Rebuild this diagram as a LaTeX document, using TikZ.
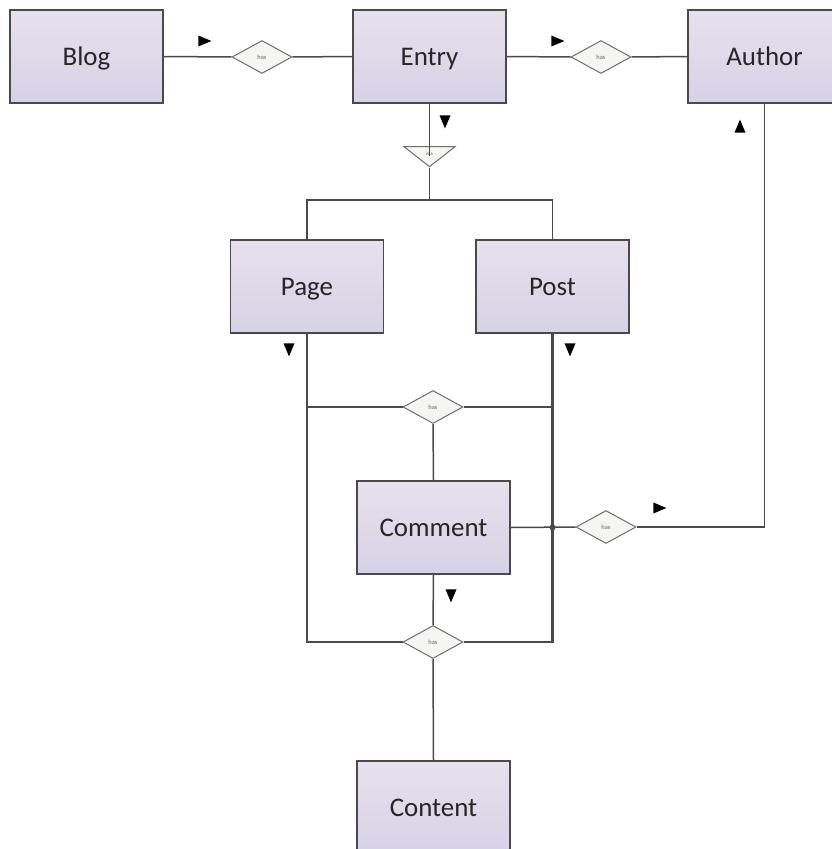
\documentclass[tikz,border=0pt]{standalone}
\usepackage{fontspec}
\setmainfont{Carlito}
\usetikzlibrary{shapes.geometric}
\definecolor{boxtop}{HTML}{E8E0EC}
\definecolor{boxbot}{HTML}{D6D2E6}
\definecolor{edgec}{HTML}{4A4A4A}
\definecolor{dfill}{HTML}{F5F6F3}
\begin{document}
\begin{tikzpicture}[x=1bp,y=-1bp,
  entity/.style={draw=edgec, line width=1.6bp, top color=boxtop, bottom color=boxbot,
    minimum width=153bp, minimum height=93bp, inner sep=0pt,
    text height=17.4bp, text depth=0pt,
    font=\fontsize{27}{30}\selectfont, text=black!85},
  rel/.style={diamond, draw=edgec!80, line width=1bp, fill=dfill, minimum width=60bp,
    minimum height=33bp, inner sep=0pt, font=\fontsize{6.5}{7}\selectfont, text=black!60},
  isabox/.style={isosceles triangle, shape border rotate=270, isosceles triangle stretches,
    draw=edgec!80, line width=1bp, fill=dfill, minimum width=51bp, minimum height=20bp,
    inner sep=0pt},
  link/.style={draw=edgec, line width=1.5bp},
  heavy/.style={draw=edgec, line width=2.3bp},
  card/.style={isosceles triangle, isosceles triangle stretches, fill=black, draw=none,
    inner sep=0pt, minimum height=13bp, minimum width=11bp}
]
\useasboundingbox (0,0) rectangle (832,849);

% entities
\node[entity] (Blog) at (86.5,56.5) {Blog};
\node[entity] (Entry) at (429.5,56.5) {Entry};
\node[entity] (Author) at (764.5,56.5) {Author};
\node[entity] (Page) at (307,286.5) {Page};
\node[entity] (Post) at (552.5,286.5) {Post};
\node[entity] (Comment) at (433.5,527.5) {Comment};
\node[entity] (Content) at (433.5,807.5) {Content};

% relationships
\node[rel] (r1) at (262,57) {has};
\node[rel] (r2) at (601,57) {has};
\node[rel] (r3) at (433,407) {has};
\node[rel] (r4) at (606,527) {has};
\node[rel] (r5) at (433,642) {has};
\node[isabox, anchor=apex] (isa) at (429.5,168) {};
\node[font=\fontsize{5}{6}\selectfont, text=black!60, inner sep=0pt] (isalabel) at (429.5,153.5) {is a};
\coordinate (split) at (429.5,200);

% connectors
\draw[link] (Blog.east) -- (r1.west);
\draw[link] (r1.east) -- (Entry.west);
\draw[link] (Entry.east) -- (r2.west);
\draw[link] (r2.east) -- (Author.west);
\draw[link] (Entry.south) -- (isa.base);
\draw[link] (isa.apex) -- (split);
\draw[link] (Page.north) |- (split) -| (Post.north);
\draw[heavy] (Page.south) |- (r5.west);
\draw[heavy] (Post.south) |- (r5.east);
\draw[link] (Page.south |- r3.west) -- (r3.west);
\draw[link] (r3.east) -- (Post.south |- r3.east);
\draw[link] (r3.south) -- (Comment.north);
\draw[link] (Comment.south) -- (r5.north);
\draw[link] (r5.south) -- (Content.north);
\draw[link] (Comment.east) -- (r4.west);
\draw[link] (r4.east) -| (Author.south);
\fill[edgec] (Post.south |- Comment.east) circle (3bp);

% cardinality markers
\node[card] (m1) at (202,41) {};
\node[card] (m2) at (555,41) {};
\node[card, shape border rotate=270] (m3) at (445,119) {};
\node[card, shape border rotate=90] (m4) at (740,129) {};
\node[card, shape border rotate=270] (m5) at (289,347) {};
\node[card, shape border rotate=270] (m6) at (570,347) {};
\node[card] (m7) at (657,508) {};
\node[card, shape border rotate=270] (m8) at (451,593) {};
\end{tikzpicture}
\end{document}
